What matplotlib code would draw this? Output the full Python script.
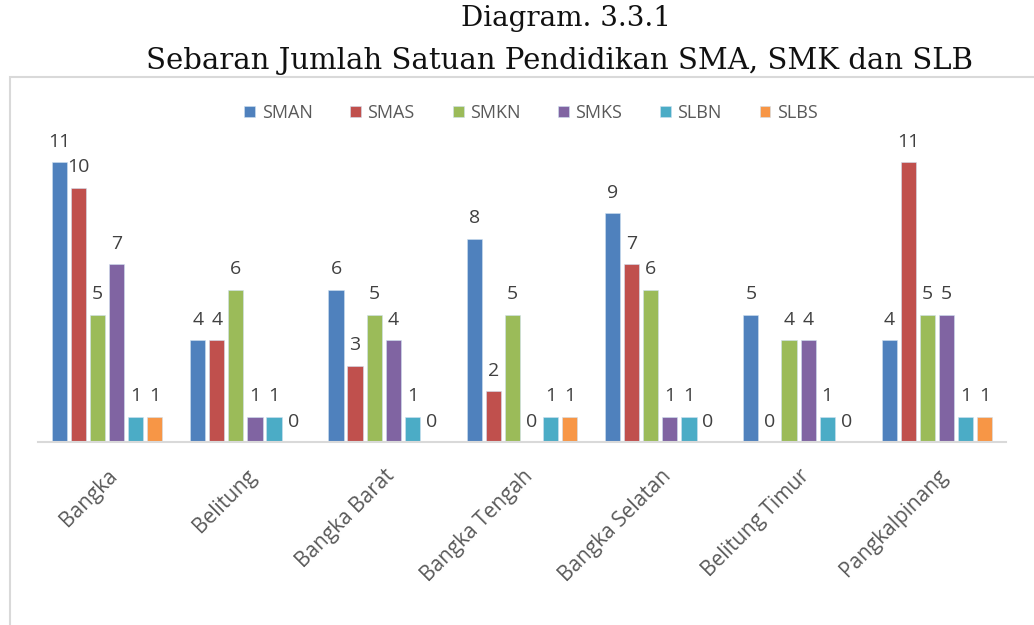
import numpy as np
import matplotlib
matplotlib.use('Agg')
import matplotlib.pyplot as plt
from matplotlib.patches import Rectangle

# ---- data --------------------------------------------------------------------
regions = ['Bangka', 'Belitung', 'Bangka Barat', 'Bangka Tengah',
           'Bangka Selatan', 'Belitung Timur', 'Pangkalpinang']
series = ['SMAN', 'SMAS', 'SMKN', 'SMKS', 'SLBN', 'SLBS']
sman = [11, 4, 6, 8, 9, 5, 4]
smas = [10, 4, 3, 2, 7, 0, 11]
smkn = [5, 6, 5, 5, 6, 4, 5]
smks = [7, 1, 4, 0, 1, 4, 5]
slbn = [1, 1, 1, 1, 1, 1, 1]
slbs = [1, 0, 0, 1, 0, 0, 1]
colors = ['#4F81BD', '#C0504D', '#9BBB59', '#8064A2', '#4BACC6', '#F79646']

values = [sman, smas, smkn, smks, slbn, slbs]

# ---- plot --------------------------------------------------------------------
fig = plt.figure(figsize=(10.34, 6.25), dpi=100)
ax = fig.add_axes([38/1034, 1-442/625, 968/1034, 305/625])

# chart frame (page border)
fig.patches.append(Rectangle((10/1034, -0.1), 1.2, 0.1+1-77/625,
                             transform=fig.transFigure, fill=False,
                             edgecolor='#d9d9d9', linewidth=1.5))

x = np.arange(len(regions))
step = 0.138
w = 0.11
for i, (name, vals, c) in enumerate(zip(series, values, colors)):
    xs = x + (i - 2.5)*step
    ax.bar(xs, vals, width=w, color=c, label=name, edgecolor='#cfe0ef', linewidth=0.4)
    for xi, v in zip(xs, vals):
        ax.text(xi, v + 0.45, str(v), ha='center', va='bottom',
                fontsize=14, color='#404040', family='Open Sans')

ax.set_xlim(-0.5, 6.5)
ax.set_ylim(0, 12)
ax.set_yticks([])
for s in ['top', 'right', 'left']:
    ax.spines[s].set_visible(False)
ax.spines['bottom'].set_color('#d9d9d9')
ax.spines['bottom'].set_linewidth(1.5)
ax.set_xticks(x)
ax.set_xticklabels(regions, rotation=45, ha='right', rotation_mode='anchor',
                   fontsize=15, color='#595959', family='Open Sans')
ax.tick_params(axis='x', length=0, pad=17)

leg = fig.legend(loc='center', bbox_to_anchor=(531/1034, 1-113/625), ncol=6,
                 frameon=False, prop={'family': 'Open Sans', 'size': 13},
                 handlelength=0.6, handleheight=0.6, handletextpad=0.35,
                 columnspacing=2.1)
for t in leg.get_texts():
    t.set_color('#595959')

fig.text(566/1034, 1-19/625, 'Diagram. 3.3.1', ha='center', va='center',
         fontsize=20, family='DejaVu Serif', color='#111111')
fig.text(559/1034, 1-61/625, 'Sebaran Jumlah Satuan Pendidikan SMA, SMK dan SLB',
         ha='center', va='center', fontsize=21, family='DejaVu Serif',
         color='#111111')

plt.savefig('out.png', dpi=100)
